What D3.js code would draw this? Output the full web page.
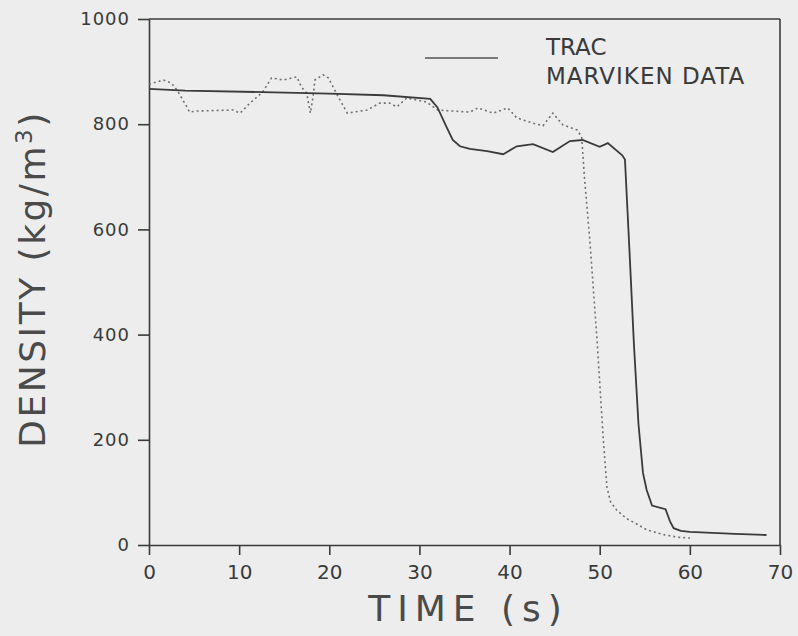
<!DOCTYPE html>
<html lang="en">
<head>
<meta charset="utf-8">
<title>Marviken density vs time</title>
<script src="https://d3js.org/d3.v7.min.js"></script>
<style>
  html, body { margin: 0; padding: 0; background: #ededed; }
  text { font-family: "DejaVu Sans", sans-serif; fill: #3a3a3a; }
  .axis path, .axis line { stroke: #3a3a3a; stroke-width: 1.6px; }
  .title { fill: #4a4a4a; }
</style>
</head>
<body>
<div id="chart"></div>
<script>
// TRAC calculation (solid)
var tracTime = [0, 4, 12.6, 20, 26, 31.2, 32, 33, 33.7, 34.5, 35.6, 37.5, 39.3, 40.8, 42.6, 44.8,
  46.7, 48.1, 50, 50.9, 52.5, 52.8, 53.3, 53.8, 54.3, 54.8, 55.2, 55.8, 57.3, 57.8, 58.2, 59, 60, 65, 68.5];
var tracDensity = [867, 864, 861, 858, 855, 848, 832, 795, 770, 758, 753, 749, 743, 758, 762, 747,
  768, 770, 757, 764, 741, 733, 560, 380, 230, 137, 105, 75, 68, 45, 32, 27, 25, 21, 19];

// Marviken measured data (dotted)
var dataTime = [0, 1.6, 2.5, 3.1, 4.2, 4.5, 5.3, 9.3, 10.1, 11.2, 12.6, 13.6, 14.9, 16.4, 16.9, 17.5,
  17.9, 18.2, 18.4, 19.3, 19.9, 20.9, 22, 24.2, 25.6, 26.7, 27.5, 28.6, 30.8, 32, 33.7, 35.6, 36.5,
  38.2, 39.8, 40.8, 42.6, 43.7, 44.8, 45.9, 47.5, 48, 48.3, 48.9, 49.7, 50.4, 50.8, 51.2, 51.9, 53,
  54.1, 55.2, 57, 58.6, 60];
var dataDensity = [876, 884, 878, 865, 833, 823, 825, 827, 821, 840, 861, 888, 884, 890, 871, 859,
  821, 852, 884, 894, 888, 855, 821, 827, 840, 840, 833, 850, 842, 827, 825, 823, 831,
  821, 831, 812, 802, 797, 821, 799, 789, 776, 700, 580, 390, 200, 110, 82, 66, 50,
  40, 29, 20, 15, 13];

var xTicks = [0, 10, 20, 30, 40, 50, 60, 70];
var yTicks = [0, 200, 400, 600, 800, 1000];
var seriesNames = ["TRAC", "MARVIKEN DATA"];

var W = 798, H = 636;
var margin = {top: 19, right: 18, bottom: 91, left: 149};
var width = W - margin.left - margin.right,
    height = H - margin.top - margin.bottom;

var svg = d3.select("#chart").append("svg")
    .attr("width", W)
    .attr("height", H);

var g = svg.append("g")
    .attr("transform", "translate(" + margin.left + "," + margin.top + ")");

var x = d3.scaleLinear().domain([0, 70]).range([0, width]);
var y = d3.scaleLinear().domain([0, 1000]).range([height, 0]);

// frame: top and right sides
g.append("line").attr("x1", 0).attr("x2", width).attr("y1", 0).attr("y2", 0)
    .attr("stroke", "#3a3a3a").attr("stroke-width", 1.6);
g.append("line").attr("x1", width).attr("x2", width).attr("y1", 0).attr("y2", height)
    .attr("stroke", "#3a3a3a").attr("stroke-width", 1.6);

// axes
var xAxis = g.append("g")
    .attr("class", "axis")
    .attr("transform", "translate(0," + height + ")")
    .call(d3.axisBottom(x).tickValues(xTicks).tickFormat(d3.format("d"))
      .tickSize(10).tickPadding(10).tickSizeOuter(0));
xAxis.selectAll("text").style("font-size", "20px");

var yAxis = g.append("g")
    .attr("class", "axis")
    .call(d3.axisLeft(y).tickValues(yTicks).tickFormat(d3.format("d"))
      .tickSize(11).tickPadding(8).tickSizeOuter(0));
yAxis.selectAll("text").style("font-size", "18px").attr("letter-spacing", "1");

// lines
var line = d3.line()
    .x(function(d) { return x(d[0]); })
    .y(function(d) { return y(d[1]); });

g.append("path")
    .datum(dataTime.map(function(t, i) { return [t, dataDensity[i]]; }))
    .attr("fill", "none")
    .attr("stroke", "#707070")
    .attr("stroke-width", 1.6)
    .attr("stroke-dasharray", "2,3")
    .attr("d", line);

g.append("path")
    .datum(tracTime.map(function(t, i) { return [t, tracDensity[i]]; }))
    .attr("fill", "none")
    .attr("stroke", "#3a3a3a")
    .attr("stroke-width", 1.8)
    .attr("d", line);

// legend
svg.append("line")
    .attr("x1", 425).attr("x2", 498).attr("y1", 58).attr("y2", 58)
    .attr("stroke", "#555").attr("stroke-width", 1.6);
svg.append("text")
    .attr("x", 546).attr("y", 55)
    .style("font-size", "23px")
    .text(seriesNames[0]);
svg.append("text")
    .attr("x", 546).attr("y", 84)
    .style("font-size", "23px")
    .attr("letter-spacing", "1")
    .text(seriesNames[1]);

// axis titles
svg.append("text")
    .attr("class", "title")
    .attr("x", margin.left + width / 2 + 4)
    .attr("y", 621)
    .attr("text-anchor", "middle")
    .attr("letter-spacing", "7")
    .style("font-size", "36px")
    .text("TIME (s)");

var yLabel = svg.append("text")
    .attr("class", "title")
    .attr("transform", "translate(45," + (margin.top + height / 2 - 3) + ") rotate(-90)")
    .attr("text-anchor", "middle")
    .attr("letter-spacing", "2.5")
    .style("font-size", "36px");
yLabel.append("tspan").text("DENSITY  (kg/m");
yLabel.append("tspan").attr("dy", "-13").style("font-size", "23px").text("3");
yLabel.append("tspan").attr("dy", "13").text(")");
</script>
</body>
</html>
